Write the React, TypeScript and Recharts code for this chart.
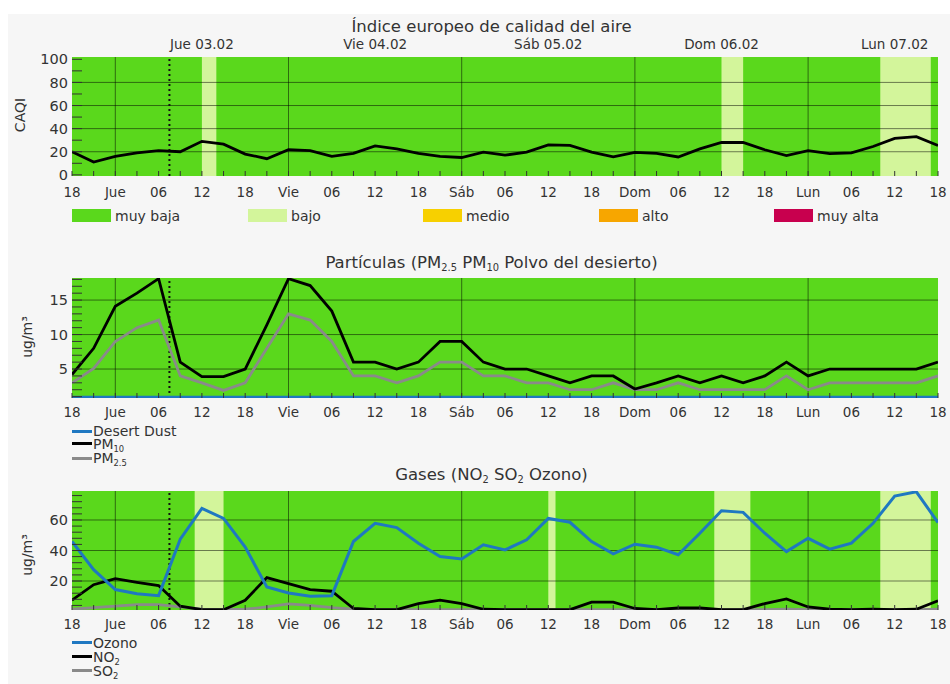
import React from 'react';
import {
  ComposedChart,
  Line,
  XAxis,
  YAxis,
  ReferenceArea,
  ReferenceLine,
} from 'recharts';

// hours since Wed 02.02 18:00, one point every 3 h
const hours = [
  0, 3, 6, 9, 12, 15, 18, 21, 24, 27, 30, 33, 36, 39, 42, 45, 48, 51, 54, 57, 60,
  63, 66, 69, 72, 75, 78, 81, 84, 87, 90, 93, 96, 99, 102, 105, 108, 111, 114, 117, 120,
];
const xTicks = [0, 6, 12, 18, 24, 30, 36, 42, 48, 54, 60, 66, 72, 78, 84, 90, 96, 102, 108, 114, 120];
const xTickLabels = [
  '18', 'Jue', '06', '12', '18', 'Vie', '06', '12', '18', 'Sáb', '06',
  '12', '18', 'Dom', '06', '12', '18', 'Lun', '06', '12', '18',
];
const dayTicks = [18, 42, 66, 90, 114];
const dayLabels = ['Jue 03.02', 'Vie 04.02', 'Sáb 05.02', 'Dom 06.02', 'Lun 07.02'];
const dayLines = [6, 30, 54, 78, 102];
const nowHour = 13.5; // Jue 07:30

const caqi = [
  20, 11, 16, 19, 21, 20, 29, 26.5, 18, 14, 21.7, 21, 16, 18.6, 25, 22.5, 18.6, 16, 15, 19.7, 17,
  19.7, 26, 25.5, 19.7, 15.5, 19.4, 18.6, 15.5, 22.5, 28, 28, 21.7, 16.6, 21, 18.3, 19, 24.5, 31.6, 33, 25.4,
];
const caqiBands = [[18, 20], [90, 93], [112, 119]];

const pm10 = [
  4.2, 8, 14.1, 16, 18.1, 6, 3.9, 3.9, 5, 11.4, 18.1, 17.1, 13.4, 6, 6, 5, 6, 9, 9, 6, 5,
  5, 4, 3, 4, 4, 2.1, 3, 4, 3, 4, 3, 4, 6, 4, 5, 5, 5, 5, 5, 6,
];
const pm25 = [
  3, 5.1, 9, 11, 12.1, 4, 3, 1.9, 3, 8, 13, 12.1, 9, 4, 4, 3, 4, 6, 6, 4, 4,
  3, 3, 2, 2, 3, 2, 2, 3, 2, 2, 2, 2, 4, 2, 3, 3, 3, 3, 3, 4,
];
const desertDust = [
  0.9, 0.9, 0.9, 0.9, 0.9, 0.9, 0.9, 0.9, 0.9, 0.9, 0.9, 0.9, 0.9, 0.9, 0.9, 0.9, 0.9, 0.9, 0.9, 0.9, 0.9,
  0.9, 0.9, 0.9, 0.9, 0.9, 0.9, 0.9, 0.9, 0.9, 0.9, 0.9, 0.9, 0.9, 0.9, 0.9, 0.9, 0.9, 0.9, 0.9, 0.9,
];

const ozone = [
  45.9, 27.4, 14.4, 11.7, 10.4, 47.4, 67.6, 61, 42.2, 16.1, 12.2, 10, 10.4, 45.9, 57.8, 55, 44.8, 36.1, 34.4, 43.7, 40.4,
  47, 61, 58.5, 45.9, 37.8, 44.1, 42.2, 37.2, 51.3, 66.1, 65, 51.3, 39.3, 48, 40.9, 44.8, 57.8, 75.7, 78.5, 58.3,
];
const no2 = [
  7.4, 17.6, 21.5, 19.1, 17, 3.5, 1.2, 1.2, 7.4, 22.2, 18.3, 14.4, 13.3, 2, 1.2, 1.2, 5.2, 7.4, 5.2, 1.5, 1.2,
  1.2, 1.2, 1.2, 6.1, 6.1, 2, 1.2, 2.3, 2.3, 1.2, 1.2, 5.2, 8.3, 3, 1.5, 1.2, 1.5, 1.2, 1.5, 7,
];
const so2 = [
  1.5, 2.5, 3.5, 4.5, 4.5, 3, 1.5, 1.2, 1.5, 3, 5, 4, 2.5, 1.5, 1.2, 1.2, 1.2, 1.2, 1.2, 1.2, 1.2,
  1.2, 1.2, 1.2, 1.2, 1.2, 1.2, 1.2, 1.5, 1.5, 1.2, 1.2, 1.2, 1.5, 1.2, 1.2, 1.2, 1.2, 1.2, 1.2, 1.5,
];
const gasBands = [[17, 21], [66, 67], [89, 94], [112, 119]];

const caqiTicks = [0, 10, 20, 30, 40, 50, 60, 70, 80, 90, 100];
const caqiLabels = [0, 20, 40, 60, 80, 100];
const caqiGrid = [20, 40, 60, 80];
const pmTicks = [1, 2, 3, 4, 5, 6, 7, 8, 9, 10, 11, 12, 13, 14, 15, 16, 17, 18];
const pmLabels = [5, 10, 15];
const gasTicks = [4, 8, 12, 16, 20, 24, 28, 32, 36, 40, 44, 48, 52, 56, 60, 64, 68, 72, 76];
const gasLabels = [20, 40, 60];

const levels = ['muy baja', 'bajo', 'medio', 'alto', 'muy alta'];
const levelColors = ['#5ad81c', '#d3f59b', '#f7d000', '#f7a600', '#c8004e'];

const GREEN = '#5ad81c';
const LIGHT = '#d3f59b';
const GRID = 'rgba(0,0,0,0.5)';
const FONT = 'DejaVu Sans';
const TEXT = '#333';

const rows = hours.map((h, i) => ({
  h,
  caqi: caqi[i],
  pm10: pm10[i],
  pm25: pm25[i],
  dust: desertDust[i],
  ozone: ozone[i],
  no2: no2[i],
  so2: so2[i],
}));

const xLabel = (v: number) => {
  const i = xTicks.indexOf(v);
  return i >= 0 ? xTickLabels[i] : '';
};

function backdrop(bands: number[][], grid: number[]) {
  return [
    <ReferenceArea key="bg" x1={0} x2={120} fill={GREEN} fillOpacity={1} stroke="none" />,
    ...bands.map(([a, b], i) => (
      <ReferenceArea key={'band' + i} x1={a} x2={b} fill={LIGHT} fillOpacity={1} stroke="none" />
    )),
    ...grid.map((v) => <ReferenceLine key={'gy' + v} y={v} stroke={GRID} strokeWidth={1} />),
    ...dayLines.map((v) => <ReferenceLine key={'gx' + v} x={v} stroke={GRID} strokeWidth={1} />),
    <ReferenceLine key="now" x={nowHour} stroke="#111" strokeWidth={2} strokeDasharray="2 3" />,
  ];
}

function axes(domain: number[], ticks: number[], labels: number[], labelMargin: number) {
  return [
    <XAxis
      key="x"
      dataKey="h"
      type="number"
      domain={[0, 120]}
      allowDataOverflow
      ticks={hours}
      interval={0}
      tickFormatter={xLabel}
      height={24}
      axisLine={false}
      tickSize={-5}
      tickMargin={labelMargin}
      tickLine={{ stroke: '#333' }}
      tick={{ fontFamily: FONT, fontSize: 13.5, fill: TEXT }}
    />,
    <YAxis
      key="y"
      type="number"
      domain={domain}
      allowDataOverflow
      ticks={ticks}
      interval={0}
      tickFormatter={(v: number) => (labels.includes(v) ? String(v) : '')}
      width={72}
      axisLine={false}
      tickSize={-10}
      tickMargin={14}
      tickLine={{ stroke: '#333' }}
      tick={{ fontFamily: FONT, fontSize: 14.5, fill: TEXT }}
    />,
    <YAxis
      key="yr"
      yAxisId="r"
      orientation="right"
      type="number"
      domain={domain}
      allowDataOverflow
      ticks={ticks}
      interval={0}
      tick={false}
      width={0}
      axisLine={false}
      tickSize={-8}
      tickLine={{ stroke: '#333' }}
    />,
  ];
}

const abs = (left: number, top: number, extra: React.CSSProperties = {}): React.CSSProperties => ({
  position: 'absolute',
  left,
  top,
  ...extra,
});

function Title({ cx, cy, children }: { cx: number; cy: number; children: React.ReactNode }) {
  return (
    <div
      style={abs(cx, cy - 10, {
        transform: 'translateX(-50%)',
        whiteSpace: 'nowrap',
        fontSize: 16.5,
        lineHeight: '20px',
        color: TEXT,
      })}
    >
      {children}
    </div>
  );
}

function YTitle({ cx, cy, children }: { cx: number; cy: number; children: React.ReactNode }) {
  return (
    <div
      style={abs(cx, cy, {
        transform: 'translate(-50%, -50%) rotate(-90deg)',
        whiteSpace: 'nowrap',
        fontSize: 14,
        lineHeight: '16px',
        color: TEXT,
      })}
    >
      {children}
    </div>
  );
}

function LineKey({ y, color, children }: { y: number; color: string; children: React.ReactNode }) {
  return (
    <>
      <div style={abs(72, y - 1.5, { width: 20, height: 3, background: color })} />
      <div style={abs(93, y - 6, { fontSize: 14, lineHeight: '12px', color: TEXT, whiteSpace: 'nowrap' })}>
        {children}
      </div>
    </>
  );
}

const sub: React.CSSProperties = { fontSize: '0.6em', verticalAlign: '-0.3em', lineHeight: 0 };

const legendX = [72, 248, 423, 599, 774];

export default function App() {
  return (
    <div style={abs(0, 0, { width: 950, height: 684, background: '#fff', fontFamily: FONT, overflow: 'hidden' })}>
      <div style={abs(8, 14, { width: 942, height: 670, background: '#f6f6f6' })} />

      {/* CAQI */}
      <div style={abs(0, 0)}>
        <ComposedChart width={950} height={200} data={rows} margin={{ top: 27, right: 12, bottom: 0, left: 0 }}>
          {backdrop(caqiBands, caqiGrid)}
          <XAxis
            xAxisId="top"
            dataKey="h"
            orientation="top"
            type="number"
            domain={[0, 120]}
            allowDataOverflow
            ticks={dayTicks}
            interval={0}
            tickFormatter={(v: number) => dayLabels[dayTicks.indexOf(v)]}
            height={30}
            axisLine={false}
            tickLine={false}
            tickSize={0}
            tickMargin={8}
            tick={{ fontFamily: FONT, fontSize: 13.5, fill: TEXT }}
          />
          {axes([-1, 102], caqiTicks, caqiLabels, 16)}
          <Line dataKey="caqi" stroke="#000" strokeWidth={2.8} dot={false} isAnimationActive={false} />
        </ComposedChart>
      </div>
      <Title cx={491.5} cy={27}>Índice europeo de calidad del aire</Title>
      <YTitle cx={20} cy={115}>CAQI</YTitle>
      {levels.map((name, i) => (
        <React.Fragment key={name}>
          <div style={abs(legendX[i], 209, { width: 39, height: 13, background: levelColors[i] })} />
          <div style={abs(legendX[i] + 43, 208, { fontSize: 14, lineHeight: '16px', color: TEXT, whiteSpace: 'nowrap' })}>
            {name}
          </div>
        </React.Fragment>
      ))}

      {/* Particles */}
      <div style={abs(0, 240)}>
        <ComposedChart width={950} height={182} data={rows} margin={{ top: 38, right: 12, bottom: 0, left: 0 }}>
          {backdrop([], [5, 10, 15])}
          {axes([0.8, 18.2], pmTicks, pmLabels, 14)}
          <Line dataKey="pm25" stroke="#8a8a8a" strokeWidth={2.8} dot={false} isAnimationActive={false} />
          <Line dataKey="pm10" stroke="#000" strokeWidth={2.8} dot={false} isAnimationActive={false} />
          <Line dataKey="dust" stroke="#1f78c1" strokeWidth={3} dot={false} isAnimationActive={false} />
        </ComposedChart>
      </div>
      <Title cx={491.5} cy={263}>
        Partículas (PM<span style={sub}>2.5</span> PM<span style={sub}>10</span> Polvo del desierto)
      </Title>
      <YTitle cx={27} cy={337}>
        ug/m³
      </YTitle>
      <LineKey y={431} color="#1f78c1">Desert Dust</LineKey>
      <LineKey y={443.5} color="#000">
        PM<span style={sub}>10</span>
      </LineKey>
      <LineKey y={458} color="#8a8a8a">
        PM<span style={sub}>2.5</span>
      </LineKey>

      {/* Gases */}
      <div style={abs(0, 450)}>
        <ComposedChart width={950} height={184} data={rows} margin={{ top: 41, right: 12, bottom: 0, left: 0 }}>
          {backdrop(gasBands, [20, 40, 60])}
          {axes([1, 79], gasTicks, gasLabels, 14)}
          <Line dataKey="so2" stroke="#8a8a8a" strokeWidth={2.8} dot={false} isAnimationActive={false} />
          <Line dataKey="no2" stroke="#000" strokeWidth={2.8} dot={false} isAnimationActive={false} />
          <Line dataKey="ozone" stroke="#1f78c1" strokeWidth={3} dot={false} isAnimationActive={false} />
        </ComposedChart>
      </div>
      <Title cx={491.5} cy={475}>
        Gases (NO<span style={sub}>2</span> SO<span style={sub}>2</span> Ozono)
      </Title>
      <YTitle cx={27} cy={555}>
        ug/m³
      </YTitle>
      <LineKey y={642.7} color="#1f78c1">Ozono</LineKey>
      <LineKey y={656.7} color="#000">
        NO<span style={sub}>2</span>
      </LineKey>
      <LineKey y={670.7} color="#8a8a8a">
        SO<span style={sub}>2</span>
      </LineKey>
    </div>
  );
}
